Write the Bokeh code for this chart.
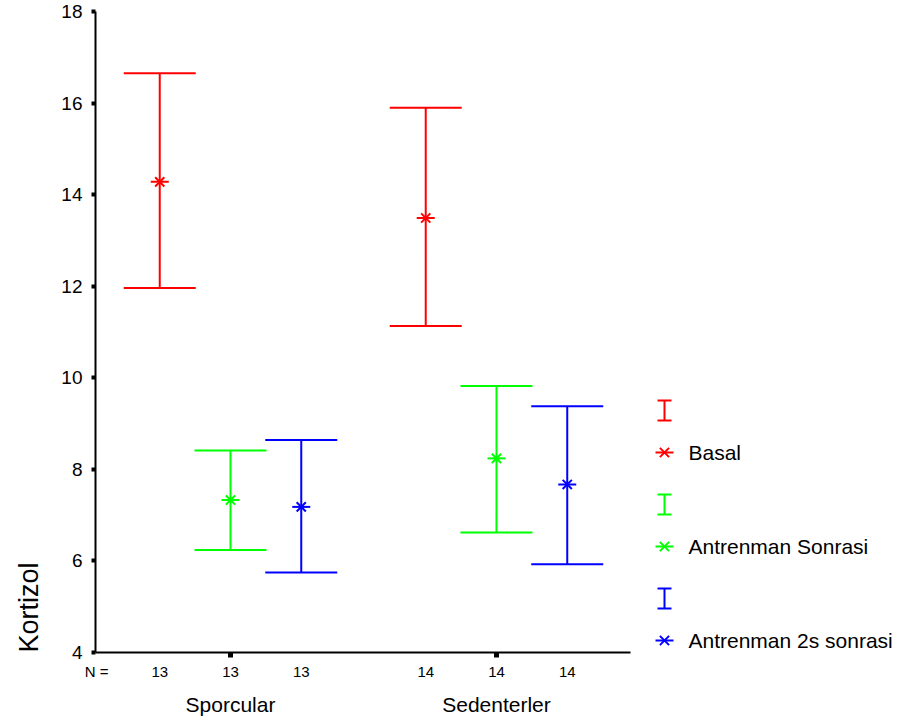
from bokeh.plotting import figure
from bokeh.models import (ColumnDataSource, Whisker, TeeHead, FixedTicker,
                          LinearAxis, Range1d, Title)
from bokeh.layouts import row
from bokeh.embed import file_html
from bokeh.resources import INLINE
from bokeh.core.properties import value

# ---------------- data ----------------
groups = ["Sporcular", "Sedenterler"]
series = ["Basal", "Antrenman Sonrasi", "Antrenman 2s sonrasi"]
colors = ["#ff0000", "#00ff00", "#0000ff"]
n_counts = [13, 14]          # N per group (same for each series)

basal_mean = [14.28, 13.49]
basal_upper = [16.65, 15.90]
basal_lower = [11.96, 11.13]

sonrasi_mean = [7.33, 8.24]
sonrasi_upper = [8.41, 9.82]
sonrasi_lower = [6.24, 6.62]

s2_mean = [7.18, 7.67]
s2_upper = [8.64, 9.38]
s2_lower = [5.75, 5.93]

y_ticks = [4, 6, 8, 10, 12, 14, 16, 18]
y_label = "Kortizol"
n_label = "N ="

means = [basal_mean, sonrasi_mean, s2_mean]
uppers = [basal_upper, sonrasi_upper, s2_upper]
lowers = [basal_lower, sonrasi_lower, s2_lower]

# ---------------- layout constants ----------------
FONT = "Liberation Sans"
offsets = [-0.266, 0.0, 0.266]
group_pos = [1, 2]
H = 726
TOP = 11
BOTTOM = 74

p = figure(width=640, height=H, x_range=Range1d(0.4925, 2.5038),
           y_range=Range1d(4, 18), toolbar_location=None, output_backend="svg",
           min_border_left=95, min_border_right=10, min_border_top=TOP,
           min_border_bottom=BOTTOM)
p.title.visible = False
p.grid.visible = False
p.outline_line_color = None
p.background_fill_color = "white"
p.border_fill_color = "white"

for si, name in enumerate(series):
    xs = [round(g + offsets[si], 3) for g in group_pos]
    src = ColumnDataSource(dict(x=xs, m=means[si], up=uppers[si], lo=lowers[si]))
    w = Whisker(source=src, base="x", upper="up", lower="lo", dimension="height",
                line_color=colors[si], line_width=2,
                upper_head=TeeHead(size=72, line_color=colors[si], line_width=2),
                lower_head=TeeHead(size=72, line_color=colors[si], line_width=2))
    p.add_layout(w)
    p.scatter("x", "m", source=src, marker="dash", size=18, line_color=colors[si],
              line_width=2)
    p.scatter("x", "m", source=src, marker="x", size=13, line_color=colors[si],
              line_width=2)

# y axis
ya = p.yaxis[0]
ya.ticker = FixedTicker(ticks=y_ticks)
ya.axis_line_width = 2
ya.major_tick_line_width = 4
ya.major_tick_out = 4
ya.major_tick_in = 0
ya.minor_tick_line_color = None
ya.major_label_standoff = 9
ya.major_label_text_font = FONT
ya.major_label_text_font_size = "19px"
ya.major_label_text_color = "black"

p.add_layout(Title(text=y_label, align="left", vertical_align="top",
                   text_font=FONT, text_font_size="27px",
                   text_font_style="normal", text_color="black",
                   standoff=26), "left")

# x axis A: line, square ticks at group centres (minor), N row labels (major)
n_ticks = [0.497]
n_over = {0.497: n_label}
for si in range(len(series)):
    for gi, g in enumerate(group_pos):
        t = round(g + offsets[si], 3)
        n_ticks.append(t)
        n_over[t] = str(n_counts[gi])
xa = p.xaxis[0]
xa.ticker = FixedTicker(ticks=sorted(n_ticks), minor_ticks=group_pos)
xa.major_label_overrides = n_over
xa.axis_line_width = 2
xa.major_tick_line_color = None
xa.major_tick_out = 0
xa.major_tick_in = 0
xa.minor_tick_line_color = "black"
xa.minor_tick_line_width = 5
xa.minor_tick_out = 5
xa.minor_tick_in = 0
xa.major_label_standoff = 5
xa.major_label_text_font = FONT
xa.major_label_text_font_size = "15px"
xa.major_label_text_color = "black"

# x axis C: group names
xc = LinearAxis(ticker=FixedTicker(ticks=group_pos),
                major_label_overrides={1: groups[0], 2: groups[1]},
                axis_line_color=None, major_tick_line_color=None,
                major_tick_out=0, major_tick_in=0,
                minor_tick_line_color=None, major_label_standoff=10,
                major_label_text_font=FONT, major_label_text_font_size="21px",
                major_label_text_color="black")
p.add_layout(xc, "below")

# ---------------- legend panel (page pixel coordinates) ----------------
LW = 271
leg = figure(width=LW, height=H, x_range=Range1d(640, 640 + LW),
             y_range=Range1d(H - BOTTOM, TOP), toolbar_location=None,
             output_backend="svg", x_axis_type=None, y_axis_type=None,
             min_border_left=0, min_border_right=0, min_border_top=TOP,
             min_border_bottom=BOTTOM)
leg.title.visible = False
leg.grid.visible = False
leg.outline_line_color = None

icon_x = 664
text_x = 688
for si, name in enumerate(series):
    cy = 410 + si * 94
    ay = cy + 42
    leg.segment(x0=[icon_x], y0=[cy - 10], x1=[icon_x], y1=[cy + 10],
                line_color=colors[si], line_width=2)
    leg.segment(x0=[icon_x - 7, icon_x - 7], y0=[cy - 10, cy + 10],
                x1=[icon_x + 7, icon_x + 7], y1=[cy - 10, cy + 10],
                line_color=colors[si], line_width=2)
    leg.scatter([icon_x], [ay], marker="dash", size=18, line_color=colors[si], line_width=2)
    leg.scatter([icon_x], [ay], marker="x", size=13, line_color=colors[si], line_width=2)
    src = ColumnDataSource(dict(x=[text_x], y=[ay], t=[name]))
    leg.text("x", "y", text="t", source=src, text_font=value(FONT),
             text_font_size="21px", text_baseline="middle", text_align="left",
             text_color="black")

layout = row(p, leg)
open("out.html", "w").write(file_html(layout, INLINE))
